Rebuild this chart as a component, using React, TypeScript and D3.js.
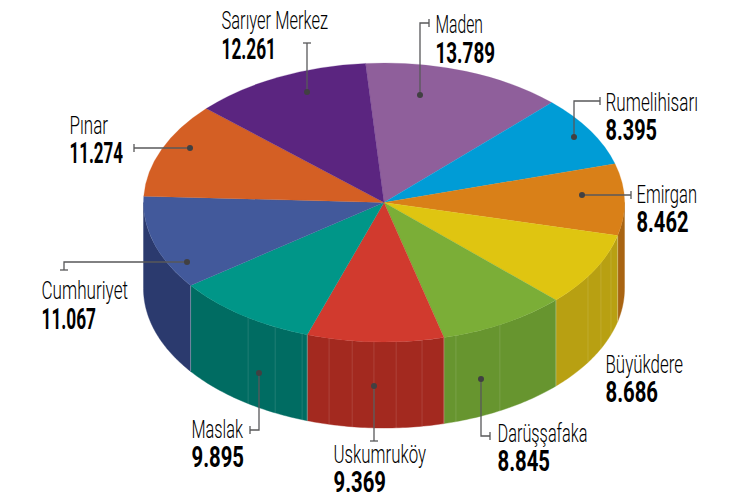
import React from "react";
import * as d3 from "d3";

const names = ["Maden","Rumelihisarı","Emirgan","Büyükdere","Darüşşafaka","Uskumruköy","Maslak","Cumhuriyet","Pınar","Sarıyer Merkez"];
const values = [13789,8395,8462,8686,8845,9369,9895,11067,11274,12261];
const valueLabels = ["13.789","8.395","8.462","8.686","8.845","9.369","9.895","11.067","11.274","12.261"];
const topColors = ["#8f5f9b","#009cd6","#d98018","#dfc511","#7bae37","#d13a2e","#009688","#42599b","#d45f24","#5b2580"];
const sideColors = ["#6b4774","#00759f","#a96412","#b8a012","#67952f","#a3291f","#006c62","#2b3a6e","#a04a1b","#441c60"];
const seamAngles = [109.3,115.6,122,151.2,162.6,170.9,177.1,182.4,187.6,193.2,199.9,206.9,214.4];

const W = 741, H = 503;
const cx = 384, cy = 202.5, rx = 240.5, ry = 139.5, depth = 86;
const rad = Math.PI / 180;
const startDeg = -4.4;

// label layout: [x, label baseline, label width, value baseline, value width]
const labelLayout: number[][] = [
  [435.5,33,47.5,62.5,59.5],[605.5,110.5,92.5,140,51.5],[636.5,202.5,60.5,231.5,52],[605.5,372.5,77.5,401.5,52.5],
  [497.5,441.5,90,471,52.5],[333.5,463,92.5,492,52.5],[191.5,438,51.5,467,52.5],[41.5,299,86.5,329,54.5],[69.5,134,38.5,163,53.5],[221.5,29,106.5,59,54.5],
];
// leader paths: dot first, then elbow(s), then end; final cap orientation
const leaders: ({ pts: number[][]; cap: "h" | "v" } | null)[] = [
  { pts: [[420,95],[420,23],[429,23]], cap: "v" },
  { pts: [[574,137],[574,101],[600,101]], cap: "v" },
  { pts: [[582,195],[631,195]], cap: "v" },
  null,
  { pts: [[481,379],[481,436],[490,436]], cap: "v" },
  { pts: [[374,386],[374,441]], cap: "h" },
  { pts: [[259,373],[259,430],[250,430]], cap: "v" },
  { pts: [[187,262],[64,262],[64,270]], cap: "h" },
  { pts: [[190,148],[134,148]], cap: "v" },
  { pts: [[307,92],[307,43]], cap: "h" },
];

const LABEL_FONT = "Roboto, 'Liberation Sans', sans-serif";
const VALUE_FONT = "'Liberation Sans Narrow', Roboto, sans-serif";

export default function App() {
  const pie = d3.pie<number>().sort(null)
    .startAngle(startDeg * rad).endAngle((startDeg + 360) * rad);
  const slices = pie(values);
  const arc = d3.arc<d3.PieArcDatum<number>>().innerRadius(0).outerRadius(rx);
  const scaleY = ry / rx;
  const px = (a: number) => cx + rx * Math.sin(a);
  const py = (a: number) => cy - ry * Math.cos(a);

  const sidePath = (a0: number, a1: number) => {
    const lo = Math.max(a0, 90 * rad), hi = Math.min(a1, 270 * rad);
    if (hi <= lo) return null;
    const ts = d3.range(0, 41).map((i) => lo + ((hi - lo) * i) / 40);
    const top = ts.map((t) => [px(t), py(t)] as [number, number]);
    const bot = ts.slice().reverse().map((t) => [px(t), py(t) + depth] as [number, number]);
    return d3.line()([...top, ...bot]) + "Z";
  };

  const boundaries = slices.map((s) => s.startAngle).filter((a) => a > 90 * rad && a < 270 * rad);

  return (
    <svg width={W} height={H} style={{ position: "absolute", left: 0, top: 0, background: "#fff" }}>
      {slices.map((s, i) => {
        const d = sidePath(s.startAngle, s.endAngle);
        return d ? <path key={i} d={d} fill={sideColors[i]} stroke={sideColors[i]} strokeWidth={0.4} /> : null;
      })}
      {seamAngles.map((deg) => (
        <line key={deg} x1={px(deg * rad)} x2={px(deg * rad)} y1={py(deg * rad)} y2={py(deg * rad) + depth}
          stroke="#fff" strokeOpacity={0.12} strokeWidth={1} />
      ))}
      {boundaries.map((a) => (
        <line key={a} x1={px(a)} x2={px(a)} y1={py(a)} y2={py(a) + depth} stroke="#fff" strokeOpacity={0.3} strokeWidth={1} />
      ))}
      <g transform={`translate(${cx},${cy}) scale(1,${scaleY})`}>
        {slices.map((s, i) => (
          <path key={i} d={arc(s) as string} fill={topColors[i]} stroke={topColors[i]} strokeWidth={0.3} />
        ))}
      </g>
      {leaders.map((l, i) => {
        if (!l) return null;
        const [dx, dy] = l.pts[0];
        const [ex, ey] = l.pts[l.pts.length - 1];
        const c = 4;
        return (
          <g key={i}>
            <path d={d3.line()(l.pts as [number, number][]) as string} fill="none" stroke="#58585a" strokeWidth={1.3} />
            {l.cap === "v"
              ? <line x1={ex} x2={ex} y1={ey - c} y2={ey + c} stroke="#58585a" strokeWidth={1.3} />
              : <line x1={ex - c} x2={ex + c} y1={ey} y2={ey} stroke="#58585a" strokeWidth={1.3} />}
            <circle cx={dx} cy={dy} r={3} fill="#414042" />
          </g>
        );
      })}
      {names.map((n, i) => {
        const [x, y1, w1, y2, w2] = labelLayout[i];
        return (
          <g key={n} fill="#000">
            <text x={x} y={y1} fontFamily={LABEL_FONT} fontSize={26.5} fontWeight={300} textLength={w1} lengthAdjust="spacingAndGlyphs">{n}</text>
            <text x={x} y={y2} fontFamily={VALUE_FONT} fontSize={29.5} fontWeight={700} textLength={w2} lengthAdjust="spacingAndGlyphs">{valueLabels[i]}</text>
          </g>
        );
      })}
    </svg>
  );
}
